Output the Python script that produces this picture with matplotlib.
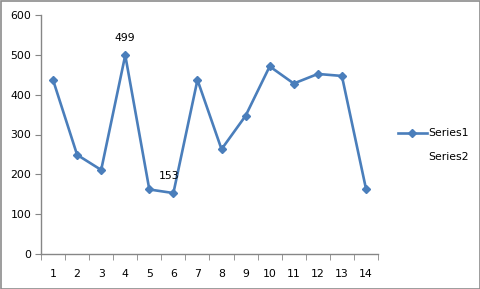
import matplotlib
matplotlib.use("Agg")
import matplotlib.pyplot as plt
from matplotlib.lines import Line2D
from matplotlib.patches import Rectangle

categories = list(range(1, 15))
series1 = [437, 249, 211, 499, 162, 153, 437, 263, 347, 471, 428, 452, 447, 164]
series2 = []
labelled = {4: 499, 6: 153}
yticks = [0, 100, 200, 300, 400, 500, 600]

blue = "#4a7ebb"
axis_gray = "#868686"

fig = plt.figure(figsize=(4.81, 2.89), dpi=100)
fig.patches.append(Rectangle((0.5/481, 0.5/289), 1 - 1.5/481, 1 - 1.5/289,
                             transform=fig.transFigure, fill=False,
                             edgecolor="#8c8c8c", linewidth=1.2))
ax = fig.add_axes([41/481, 35/289, 337/481, 239/289])

x = list(range(len(categories)))
ax.plot(x, series1, color=blue, linewidth=1.9, marker="D", markersize=4.5,
        markerfacecolor=blue, markeredgecolor=blue, label="Series1", zorder=3)

for cat, val in labelled.items():
    i = categories.index(cat)
    dx = -3 if cat == 6 else 0
    ax.annotate(str(val), (i, val), xytext=(dx, 9),
                textcoords="offset points", ha="center", va="bottom",
                fontsize=7.8, color="black")

ax.set_xlim(-0.5, len(categories) - 0.5)
ax.set_ylim(0, 600)
ax.set_yticks(yticks)
ax.set_yticklabels([str(v) for v in yticks])
ax.set_xticks(x)
ax.set_xticklabels([str(c) for c in categories])
ax.set_xticks([i - 0.5 for i in range(len(categories) + 1)], minor=True)
ax.tick_params(axis="x", which="major", length=0, pad=10.5, labelsize=7.8)
ax.tick_params(axis="x", which="minor", length=4, color=axis_gray, direction="out")
ax.tick_params(axis="y", which="major", length=4, color=axis_gray, labelsize=7.8, pad=3)
for s in ["top", "right"]:
    ax.spines[s].set_visible(False)
for s in ["left", "bottom"]:
    ax.spines[s].set_color(axis_gray)
    ax.spines[s].set_linewidth(1)

handles = [Line2D([], [], color=blue, linewidth=1.9, marker="D", markersize=4.5),
           Line2D([], [], linestyle="none")]
leg = fig.legend(handles, ["Series1", "Series2"], loc="upper left",
                 bbox_to_anchor=(393/481, 1 - 123/289), frameon=False,
                 fontsize=7.8, handlelength=2.6, handletextpad=0.2,
                 labelspacing=1.25, borderpad=0)

fig.savefig("out.png", dpi=100)
